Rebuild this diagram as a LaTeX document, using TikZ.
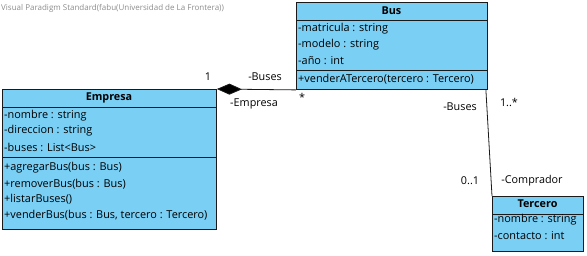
\documentclass[tikz,border=0pt]{standalone}
\usepackage{fontspec}
\setmainfont{Open Sans}
\usepackage{tikz}
\usetikzlibrary{arrows.meta}
\definecolor{classfill}{HTML}{7ACFF5}
\definecolor{classline}{HTML}{1A1A1A}
\definecolor{wmark}{HTML}{8C8C8C}
\tikzset{
  classbox/.style={draw=classline, line width=0.9pt, fill=classfill, anchor=north west, inner sep=0pt},
  sep/.style={draw=classline, line width=0.7pt},
  title/.style={font=\fontsize{10.8}{12}\selectfont\bfseries, inner sep=1pt},
  member/.style={font=\fontsize{10.9}{12}\selectfont, anchor=west, inner sep=1pt},
  lab/.style={font=\fontsize{10.8}{12}\selectfont, inner sep=1pt},
  assoc/.style={draw=classline, line width=0.8pt}
}

\begin{document}
\begin{tikzpicture}[x=1pt,y=-1pt]
  \useasboundingbox (0,0) rectangle (587,255);
  \node[font=\fontsize{8}{9}\selectfont, text=wmark, anchor=west, inner sep=0pt] (wm) at (1,8)
    {Visual Paradigm Standard(fabu(Universidad de La Frontera))};

  % Bus
  \node[classbox, minimum width=191pt, minimum height=87pt] (bus) at (296,2) {};
  \draw[sep] (296,20) -- (487,20);
  \draw[sep] (296,70) -- (487,70);
  \node[title] (bust) at (391.5,11) {Bus};
  \node[member] (bus1) at (297,29) {-matricula : string};
  \node[member] (bus2) at (297,45) {-modelo : string};
  \node[member] (bus3) at (297,61) {-año : int};
  \node[member] (bus4) at (297,79) {+venderATercero(tercero : Tercero)};

  % Empresa
  \node[classbox, minimum width=214pt, minimum height=140pt] (emp) at (2,89) {};
  \draw[sep] (2,107) -- (216,107);
  \draw[sep] (2,157) -- (216,157);
  \node[title] (empt) at (109,98) {Empresa};
  \node[member] (emp1) at (3,116) {-nombre : string};
  \node[member] (emp2) at (3,131) {-direccion : string};
  \node[member] (emp3) at (3,147) {-buses : List<Bus>};
  \node[member] (emp4) at (3,168) {+agregarBus(bus : Bus)};
  \node[member] (emp5) at (3,184) {+removerBus(bus : Bus)};
  \node[member] (emp6) at (3,199) {+listarBuses()};
  \node[member] (emp7) at (3,215) {+venderBus(bus : Bus, tercero : Tercero)};

  % Tercero
  \node[classbox, minimum width=91pt, minimum height=55pt] (ter) at (492,196) {};
  \draw[sep] (492,214) -- (583,214);
  \node[title] (tert) at (537.5,204) {Tercero};
  \node[member] (ter1) at (493,220) {-nombre : string};
  \node[member] (ter2) at (493,236) {-contacto : int};

  % composicion Empresa - Bus
  \draw[assoc, {Diamond[length=25pt,width=11pt,fill=black]}-] (emp.north east) -- (bus.south west);
  \node[lab] (m1) at (208,77) {1};
  \node[lab] (r1) at (265,77) {-Buses};
  \node[lab] (r2) at (254,104) {-Empresa};
  \node[lab] (m2) at (302,97) {*};

  % asociacion Bus - Tercero
  \draw[assoc] ([xshift=-2pt]bus.south east) -- (ter.north west);
  \node[lab] (r3) at (460,107) {-Buses};
  \node[lab] (m3) at (509,102) {1..*};
  \node[lab] (m4) at (470,181) {0..1};
  \node[lab] (r4) at (532,181) {-Comprador};
\end{tikzpicture}
\end{document}
